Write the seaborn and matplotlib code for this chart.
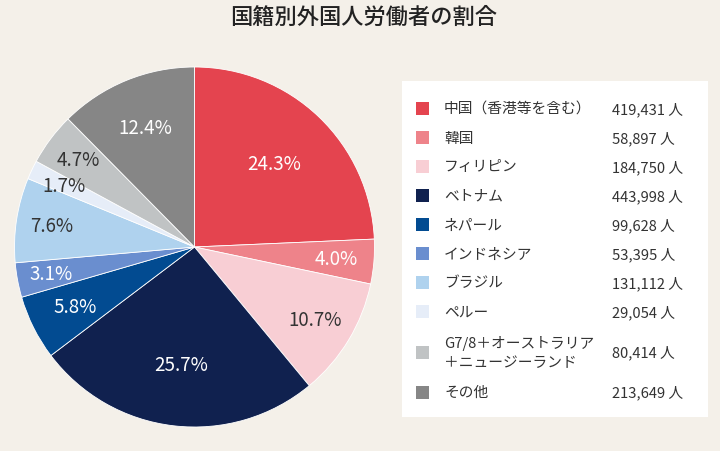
import matplotlib
matplotlib.use("Agg")
import matplotlib.pyplot as plt
from matplotlib.patches import Rectangle
import seaborn as sns
import numpy as np

# ---- data ----
categories = ["中国（香港等を含む）", "韓国", "フィリピン", "ベトナム", "ネパール",
              "インドネシア", "ブラジル", "ペルー",
              "G7/8＋オーストラリア\n＋ニュージーランド", "その他"]
workers = [419431, 58897, 184750, 443998, 99628, 53395, 131112, 29054, 80414, 213649]
shares = [24.3, 4.0, 10.7, 25.7, 5.8, 3.1, 7.6, 1.7, 4.7, 12.4]
title = "国籍別外国人労働者の割合"

# ---- style ----
colors = ["#e4444f", "#ee838a", "#f8ced4", "#10214f", "#024b91",
          "#6a8ecf", "#afd2ee", "#e6edf8", "#c0c3c4", "#868686"]
label_colors = ["white", "white", "#333333", "white", "white",
                "white", "#333333", "#333333", "#333333", "white"]
label_radius = [0.64, 0.79, 0.78, 0.655, 0.74, 0.81, 0.80, 0.80, 0.81, 0.72]

sns.set_theme(style="white")
bg = "#f4f0e9"
plt.rcParams["font.family"] = ["Noto Sans CJK JP", "DejaVu Sans"]

fig = plt.figure(figsize=(7.2, 4.52), dpi=100, facecolor=bg)
ax = fig.add_axes([0, 0, 1, 1])
ax.set_facecolor(bg)

H = 452
cx, cy, R = 194.5, H - 248, 180
palette = sns.color_palette(colors)
wedges, _ = ax.pie(shares, colors=palette, startangle=90, counterclock=False,
                   center=(cx, cy), radius=R,
                   wedgeprops=dict(edgecolor="white", linewidth=0.6))

for w, s, c, rf in zip(wedges, shares, label_colors, label_radius):
    ang = np.deg2rad((w.theta1 + w.theta2) / 2)
    ax.text(cx + rf * R * np.cos(ang), cy + rf * R * np.sin(ang), f"{s:.1f}%",
            ha="center", va="center", color=c, fontsize=13.5,
            family=["Noto Sans CJK JP", "DejaVu Sans"])

ax.set_xlim(0, 720)
ax.set_ylim(0, H)
ax.set_aspect("auto")
ax.axis("off")

# title
fig.text(363.5 / 720, 1 - 17 / H, title, ha="center", va="center",
         fontsize=16, color="#222222", fontweight="medium")

# legend box
ax.add_patch(Rectangle((401.5, H - 417.5), 306, 336, facecolor="white",
                       edgecolor="none", zorder=1))
row_y = [109.5, 138.5, 167.5, 196.5, 225.5, 254.5, 283.5, 312.5, 353, 393]
for cat, n, col, y in zip(categories, workers, colors, row_y):
    ax.add_patch(Rectangle((416, H - y - 6.5), 13, 13, facecolor=col,
                           edgecolor="none", zorder=2))
    ax.text(444, H - y, cat, ha="left", va="center", fontsize=10.6,
            color="#333333", linespacing=1.5, zorder=3)
    ax.text(612.5, H - y, f"{n:,} 人", ha="left", va="center", fontsize=10.6,
            color="#333333", zorder=3)

fig.savefig("out.png", dpi=100, facecolor=bg)
